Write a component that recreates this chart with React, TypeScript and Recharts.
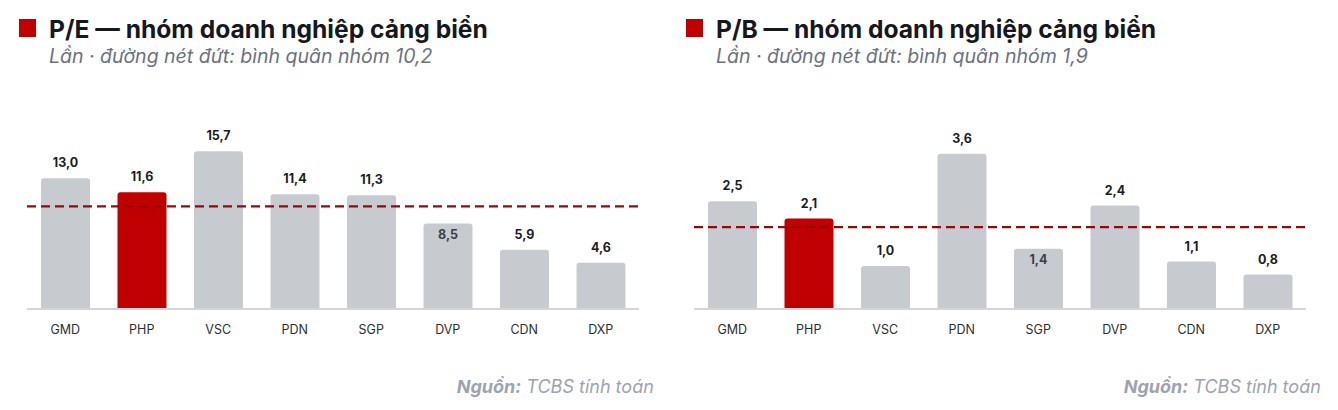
import { BarChart, Bar, XAxis, YAxis, ReferenceLine, LabelList, Cell } from 'recharts'

const tickers = ['GMD', 'PHP', 'VSC', 'PDN', 'SGP', 'DVP', 'CDN', 'DXP']
const peValues = [13.0, 11.6, 15.7, 11.4, 11.3, 8.5, 5.9, 4.6]
const pbValues = [2.5, 2.1, 1.0, 3.6, 1.4, 2.4, 1.1, 0.8]
const peAvg = 10.2
const pbAvg = 1.9
const highlight = 'PHP'

const RED = '#c00000'
const GREY = '#c7cbcf'
const FONT = 'Inter, Roboto, sans-serif'

const fmt = (v: number) => v.toFixed(1).replace('.', ',')

function makeLabel(avg: number) {
  return (props: any) => {
    const { x, y, width, height, value } = props
    const top = Number(y)
    const base = top + Number(height)
    const lineY = base - (avg * Number(height)) / Number(value)
    // label goes inside the bar when it would sit on the average line
    const inside = lineY > top - 22 && lineY < top + 2
    return (
      <text
        x={Number(x) + Number(width) / 2}
        y={inside ? top + 15 : top - 11}
        textAnchor="middle"
        fontFamily={FONT}
        fontSize={12.5}
        fontWeight={700}
        fill={inside ? '#3b4047' : '#1a1d21'}
      >
        {fmt(Number(value))}
      </text>
    )
  }
}

function Panel({ left, title, subtitle, values, avg, max }: any) {
  const data = tickers.map((t, i) => ({ name: t, value: values[i] }))
  return (
    <div style={{ position: 'absolute', left, top: 0, width: 669, height: 410 }}>
      <div style={{ position: 'absolute', left: 19, top: 19, width: 17, height: 18, background: RED }} />
      <div
        style={{
          position: 'absolute', left: 49, top: 13, fontSize: 24.6, fontWeight: 700,
          color: '#15181c', whiteSpace: 'nowrap', lineHeight: '32px',
        }}
      >
        {title}
      </div>
      <div
        style={{
          position: 'absolute', left: 49, top: 44, fontSize: 19.5, fontStyle: 'italic',
          color: '#6b7280', whiteSpace: 'nowrap', lineHeight: '24px',
        }}
      >
        {subtitle}
      </div>
      <div style={{ position: 'absolute', left: 0, top: 0 }}>
        <BarChart width={669} height={340} data={data} margin={{ top: 128, right: 30, left: 27, bottom: 0 }}>
          <XAxis
            dataKey="name"
            height={31}
            tickLine={false}
            tickSize={0}
            tickMargin={16}
            axisLine={{ stroke: '#d3d6d9', strokeWidth: 2 }}
            tick={{ fontSize: 12.5, fill: '#2b2f33', fontFamily: FONT }}
            interval={0}
          />
          <YAxis hide domain={[0, max]} />
          <Bar dataKey="value" barSize={49} radius={[3, 3, 0, 0]} isAnimationActive={false}>
            {data.map((d) => (
              <Cell key={d.name} fill={d.name === highlight ? RED : GREY} />
            ))}
            <LabelList dataKey="value" content={makeLabel(avg)} />
          </Bar>
          <ReferenceLine y={avg} stroke="#960808" strokeWidth={2.2} strokeDasharray="9 5" ifOverflow="extendDomain" />
        </BarChart>
      </div>
      <div
        style={{
          position: 'absolute', right: 15, top: 375, fontSize: 18, fontStyle: 'italic',
          color: '#9ca3af', whiteSpace: 'nowrap', lineHeight: '24px',
        }}
      >
        <b>Nguồn:</b> TCBS tính toán
      </div>
    </div>
  )
}

export default function App() {
  return (
    <div
      style={{
        position: 'absolute', left: 0, top: 0, width: 1338, height: 410,
        background: '#ffffff', fontFamily: FONT, overflow: 'hidden',
      }}
    >
      <Panel
        left={0}
        title="P/E — nhóm doanh nghiệp cảng biển"
        subtitle={'Lần · đường nét đứt: bình quân nhóm ' + fmt(peAvg)}
        values={peValues}
        avg={peAvg}
        max={18}
      />
      <Panel
        left={667}
        title="P/B — nhóm doanh nghiệp cảng biển"
        subtitle={'Lần · đường nét đứt: bình quân nhóm ' + fmt(pbAvg)}
        values={pbValues}
        avg={pbAvg}
        max={4.2}
      />
    </div>
  )
}
